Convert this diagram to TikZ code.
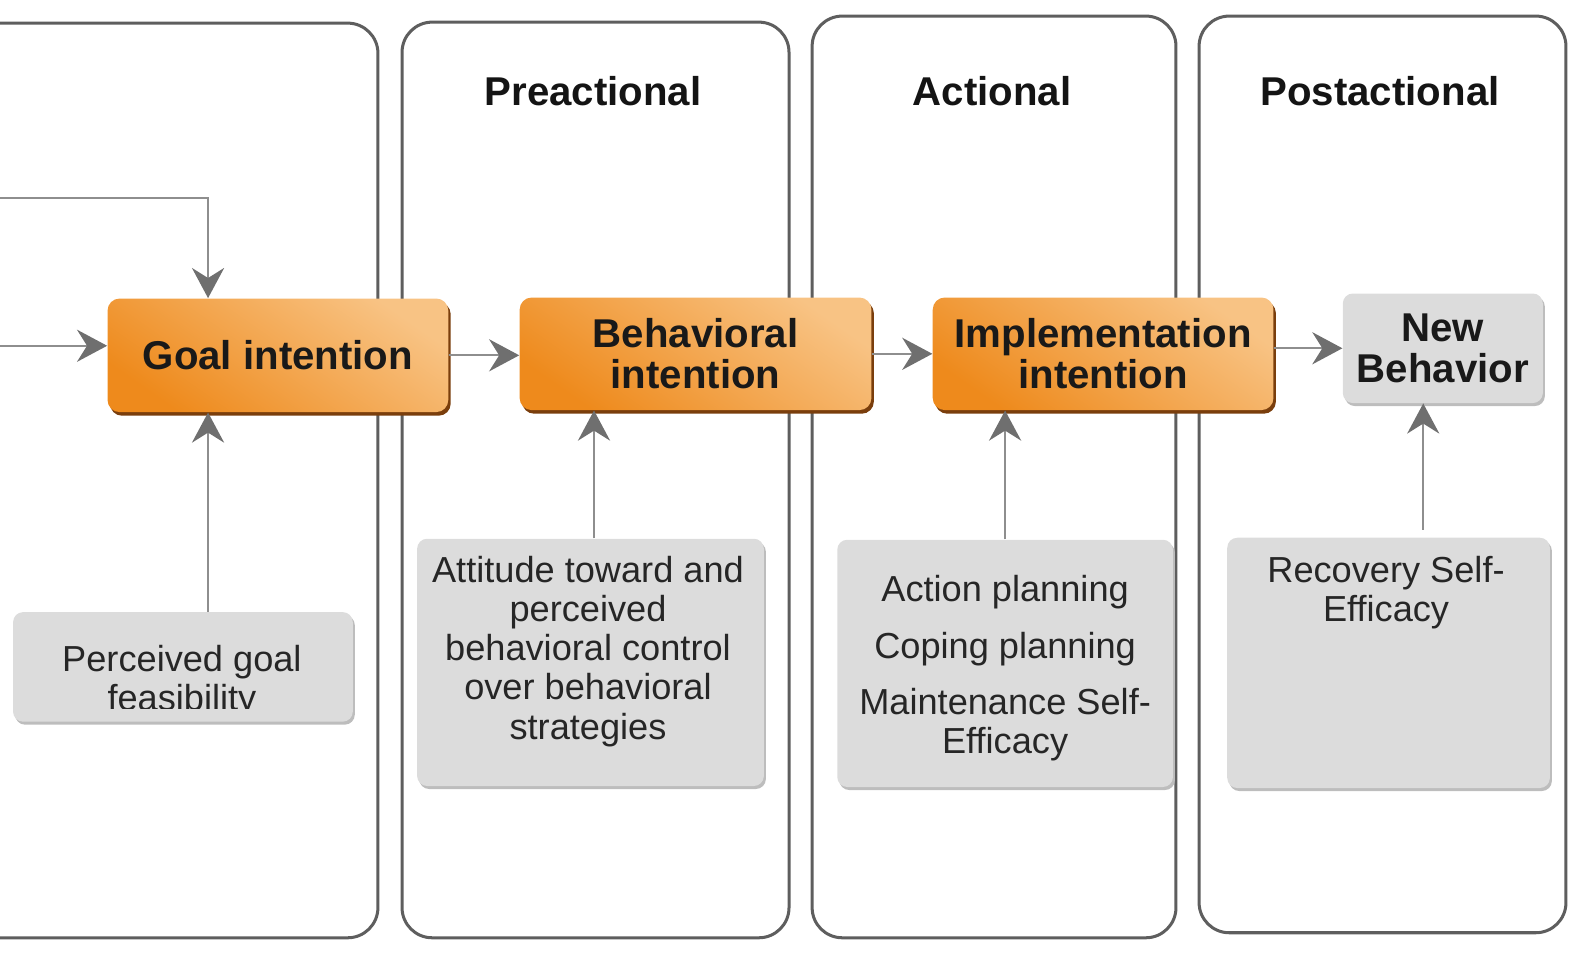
\documentclass[tikz,border=0pt]{standalone}
\usepackage{fontspec}
\setmainfont{Liberation Sans}
\usetikzlibrary{arrows.meta,shadows,calc}
\definecolor{panelline}{HTML}{5E5E5E}
\definecolor{arrline}{HTML}{8E8E8E}
\definecolor{arrhead}{HTML}{6F6F6F}
\definecolor{orlight}{HTML}{F8C384}
\definecolor{ordark}{HTML}{EE8A1C}
\definecolor{orshadow}{HTML}{7A3E0C}
\definecolor{grayfill}{HTML}{DCDCDC}
\definecolor{grayshadow}{HTML}{BDBDBD}
\definecolor{graytext}{HTML}{262626}
\begin{document}
\begin{tikzpicture}[x=0.5pt,y=-0.5pt,
  panel/.style={draw=panelline,line width=1.5pt,rounded corners=15pt},
  orangebox/.style={rounded corners=6pt,inner sep=0pt,align=center,
    top color=orlight,bottom color=ordark,shading angle=-35,
    general shadow={fill=orshadow,shadow xshift=1.2pt,shadow yshift=-1.8pt},
    font=\fontsize{20}{20.5}\selectfont\bfseries,text=black!90},
  graybox/.style={rounded corners=5pt,inner sep=0pt,fill=grayfill,
    general shadow={fill=grayshadow,shadow xshift=1pt,shadow yshift=-1.5pt}},
  graytxt/.style={align=center,inner sep=0pt,text=graytext,
    font=\fontsize{18}{19.5}\selectfont},
  heading/.style={font=\fontsize{20}{22}\selectfont\bfseries,text=black!92},
  arr/.style={draw=arrline,line width=1pt,
    -{Stealth[length=15pt,width=16pt,inset=5pt,color=arrhead]}}]

\useasboundingbox (0,0) rectangle (1568,955);

% stage panels
\draw[panel] (-40,23) rectangle (376,933);
\draw[panel] (400,22) rectangle (785,933);
\draw[panel] (808,16) rectangle (1170,933);
\draw[panel] (1193,16) rectangle (1558,928);

% stage headings
\node[heading] (hpre) at (590,91) {Preactional};
\node[heading] (hact) at (987,91) {Actional};
\node[heading] (hpost) at (1373,91) {Postactional};

% intention chain
\node[orangebox,minimum width=169.5pt,minimum height=56.5pt] (goal) at (276.5,353.5) {Goal intention};
\node[orangebox,minimum width=175pt,minimum height=56pt] (beh) at (692,352) {Behavioral\\intention};
\node[orangebox,minimum width=169.5pt,minimum height=56pt] (impl) at (1097.5,352) {Implementation\\intention};
\node[graybox,minimum width=99.5pt,minimum height=54.5pt,align=center,
  font=\fontsize{20}{20.5}\selectfont\bfseries,text=black!90] (nb) at (1435.5,346.5) {New\\Behavior};

% determinant boxes
\node[graybox,minimum width=169pt,minimum height=54.5pt] (pgf) at (182,663.5) {};
\begin{scope}
  \clip (13,600) rectangle (351,705);
  \node[graytxt] (pgftext) at (181,678) {Perceived goal\\feasibility};
\end{scope}
\node[graybox,minimum width=172.5pt,minimum height=123pt] (att) at (587.5,659) {};
\node[graytxt] (atttext) at (585,648) {Attitude toward and\\perceived\\behavioral control\\over behavioral\\strategies};
\node[graybox,minimum width=167pt,minimum height=123pt] (act) at (1000,660) {};
\node[graytxt] (acttext) at (1000,665) {Action planning\\[8.5pt]Coping planning\\[8.5pt]Maintenance Self-\\Efficacy};
\node[graybox,minimum width=160.5pt,minimum height=124.5pt] (rec) at (1381.5,659.5) {};
\node[graytxt] (rectext) at (1379,590) {Recovery Self-\\Efficacy};

% connectors
\coordinate (in1) at (0,197);
\coordinate (bend) at (207,197);
\coordinate (in2) at (0,344);
\draw[arr] (in1) -- (bend) -- (bend |- goal.north);
\draw[arr] (in2) -- (in2 -| goal.west);
\draw[arr] (bend |- pgf.north) -- (bend |- goal.south);
\draw[arr] (goal.east) -- (goal.east -| beh.west);
\draw[arr] (beh.east) -- (beh.east -| impl.west);
\draw[arr] (nb.west -| impl.east) -- (nb.west);
\draw[arr] ([xshift=1.75pt]att.north) -- ([xshift=1.75pt]att.north |- beh.south);
\draw[arr] (act.north) -- (act.north |- impl.south);
\coordinate (recup) at (1416,527);
\draw[arr] (recup) -- (recup |- nb.south);
\end{tikzpicture}
\end{document}
